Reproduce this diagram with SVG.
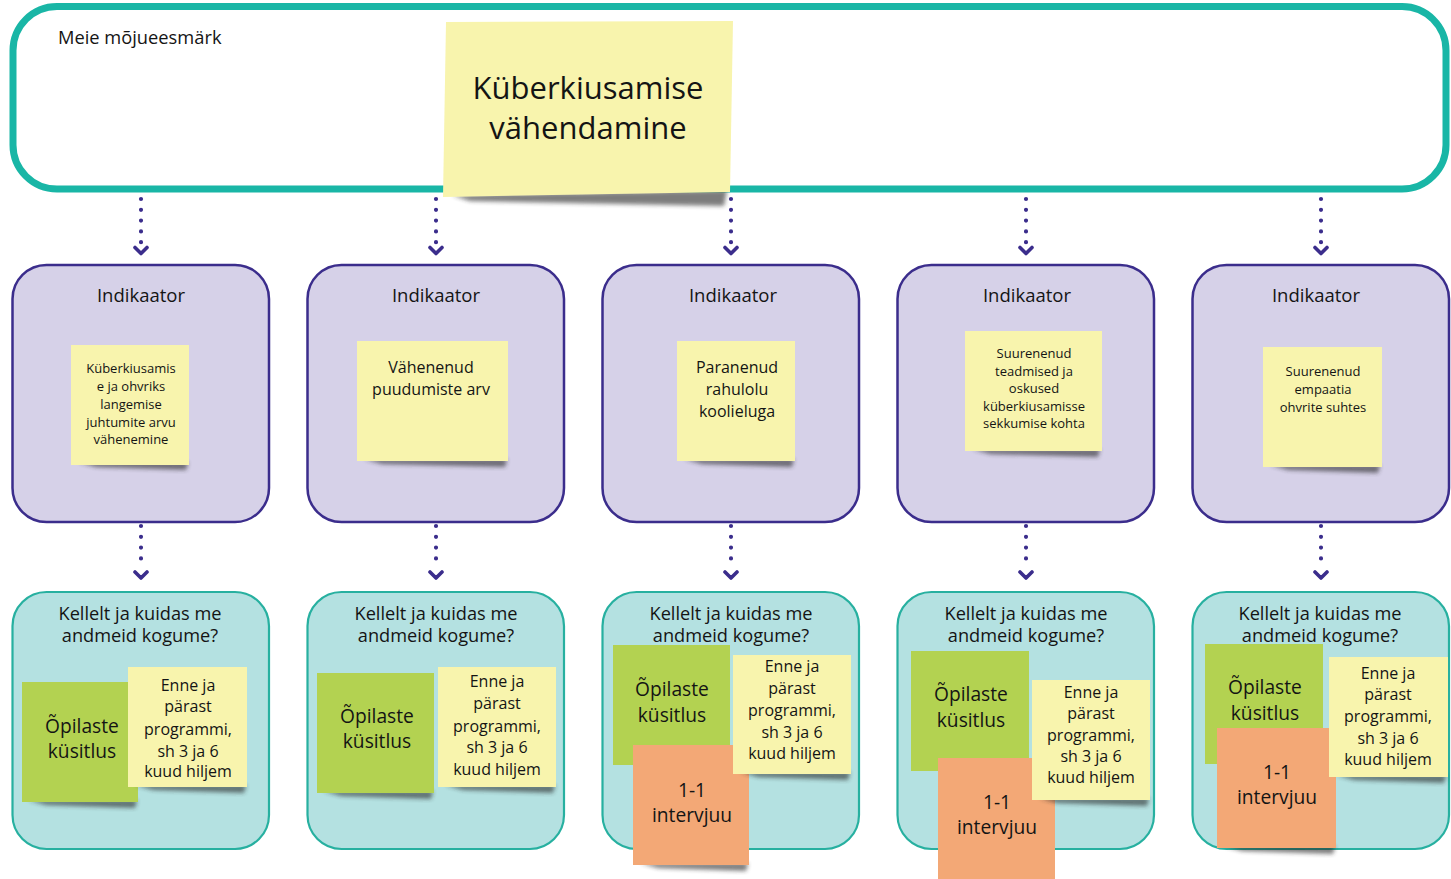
<svg xmlns="http://www.w3.org/2000/svg" width="1451" height="879" viewBox="0 0 1451 879">
  <defs>
    <filter id="soft" x="-10%" y="-50%" width="120%" height="200%">
      <feGaussianBlur stdDeviation="2"/>
    </filter>
  </defs>
  <style>
    text { font-family: 'Open Sans', 'Noto Sans', 'DejaVu Sans', sans-serif; fill: #141414; text-anchor: middle; }
    .goal { fill: #ffffff; stroke: #19b6a6; stroke-width: 7; }
    .ind { fill: #d6d1e8; stroke: #3b2d8c; stroke-width: 2.5; }
    .data { fill: #b4e1e1; stroke: #27b0a0; stroke-width: 2.2; }
    .yellow { fill: #f8f4ad; }
    .green { fill: #b3d251; }
    .orange { fill: #f3a876; }
    .shd { fill: #262626; opacity: 0.6; filter: url(#soft); }
    .h1 { font-size: 18.5px; }
    .h2 { font-size: 18.2px; }
    .big { font-size: 31px; }
    .s13 { font-size: 13px; }
    .s16 { font-size: 16px; }
    .s19 { font-size: 19.2px; }
    .dots { fill: none; stroke: #3b2d8c; stroke-width: 4.2; stroke-linecap: round; stroke-dasharray: 0 10.8; }
    .head { fill: none; stroke: #3b2d8c; stroke-width: 3.6; stroke-linecap: round; stroke-linejoin: round; }
  </style>

  <!-- impact goal frame with its sticky note -->
  <g id="goal">
    <rect class="goal" x="13" y="6.5" width="1433" height="182.5" rx="44"/>
    <text x="58" y="44" style="text-anchor:start;font-size:18.3px">Meie mõjueesmärk</text>
    <polygon class="shd" points="452,195 727,190 724,206 470,201"/>
    <polygon class="yellow" points="446,22 733,21 730,192 443,197"/>
    <text class="big" x="588" y="99">Küberkiusamise</text>
    <text class="big" x="588" y="139">vähendamine</text>
  </g>

  <!-- connectors -->
  <g id="connectors">
    <path class="dots" d="M141,199 V245 M436,199 V245 M731,199 V245 M1026,199 V245 M1321,199 V245"/>
    <path class="head" d="M135,247.5 L141,253.5 L147,247.5 M430,247.5 L436,253.5 L442,247.5 M725,247.5 L731,253.5 L737,247.5 M1020,247.5 L1026,253.5 L1032,247.5 M1315,247.5 L1321,253.5 L1327,247.5"/>
    <path class="dots" d="M141,526 V566 M436,526 V566 M731,526 V566 M1026,526 V566 M1321,526 V566"/>
    <path class="head" d="M135,572 L141,578 L147,572 M430,572 L436,578 L442,572 M725,572 L731,578 L737,572 M1020,572 L1026,578 L1032,572 M1315,572 L1321,578 L1327,572"/>
  </g>

  <!-- indicators -->
  <g id="indicator-1">
    <rect class="ind" x="12.5" y="265" width="256.5" height="257" rx="34"/>
    <text class="h1" x="141" y="302">Indikaator</text>
    <polygon class="shd" points="78,462 188,462 186,470 96,467"/>
    <rect class="yellow" x="71" y="345" width="118" height="120"/>
    <text class="s13" x="131" y="373">Küberkiusamis</text>
    <text class="s13" x="131" y="391">e ja ohvriks</text>
    <text class="s13" x="131" y="409">langemise</text>
    <text class="s13" x="131" y="427">juhtumite arvu</text>
    <text class="s13" x="131" y="444">vähenemine</text>
  </g>
  <g id="indicator-2">
    <rect class="ind" x="307.5" y="265" width="256.5" height="257" rx="34"/>
    <text class="h1" x="436" y="302">Indikaator</text>
    <polygon class="shd" points="364,459 507,459 505,467 382,464"/>
    <rect class="yellow" x="357" y="341" width="151" height="120"/>
    <text class="s16" x="431" y="373">Vähenenud</text>
    <text class="s16" x="431" y="395">puudumiste arv</text>
  </g>
  <g id="indicator-3">
    <rect class="ind" x="602.5" y="265" width="256.5" height="257" rx="34"/>
    <text class="h1" x="733" y="302">Indikaator</text>
    <polygon class="shd" points="684,459 794,459 792,467 702,464"/>
    <rect class="yellow" x="677" y="341" width="118" height="120"/>
    <text class="s16" x="737" y="373">Paranenud</text>
    <text class="s16" x="737" y="395">rahulolu</text>
    <text class="s16" x="737" y="417">koolieluga</text>
  </g>
  <g id="indicator-4">
    <rect class="ind" x="897.5" y="265" width="256.5" height="257" rx="34"/>
    <text class="h1" x="1027" y="302">Indikaator</text>
    <polygon class="shd" points="972,449 1100,449 1098,457 990,454"/>
    <rect class="yellow" x="965" y="331" width="137" height="120"/>
    <text class="s13" x="1034" y="358">Suurenenud</text>
    <text class="s13" x="1034" y="376">teadmised ja</text>
    <text class="s13" x="1034" y="393">oskused</text>
    <text class="s13" x="1034" y="411">küberkiusamisse</text>
    <text class="s13" x="1034" y="428">sekkumise kohta</text>
  </g>
  <g id="indicator-5">
    <rect class="ind" x="1192.5" y="265" width="256.5" height="257" rx="34"/>
    <text class="h1" x="1316" y="302">Indikaator</text>
    <polygon class="shd" points="1270,465 1380,465 1378,473 1288,470"/>
    <rect class="yellow" x="1263" y="347" width="119" height="120"/>
    <text class="s13" x="1323" y="376">Suurenenud</text>
    <text class="s13" x="1323" y="394">empaatia</text>
    <text class="s13" x="1323" y="412">ohvrite suhtes</text>
  </g>

  <!-- data collection boxes -->
  <g id="data-1">
    <rect class="data" x="12.5" y="592" width="256.5" height="257" rx="34"/>
    <text class="h2" x="140" y="620">Kellelt ja kuidas me</text>
    <text class="h2" x="140" y="642">andmeid kogume?</text>
    <polygon class="shd" points="28,800 137,800 135,808 46,805"/>
    <rect class="green" x="22" y="682" width="116" height="120"/>
    <text class="s19" x="82" y="733">Õpilaste</text>
    <text class="s19" x="82" y="758">küsitlus</text>
    <polygon class="shd" points="135,785 246,785 244,793 153,790"/>
    <rect class="yellow" x="128" y="667" width="119" height="120"/>
    <text class="s16" x="188" y="691">Enne ja</text>
    <text class="s16" x="188" y="712">pärast</text>
    <text class="s16" x="188" y="735">programmi,</text>
    <text class="s16" x="188" y="757">sh 3 ja 6</text>
    <text class="s16" x="188" y="777">kuud hiljem</text>
  </g>
  <g id="data-2">
    <rect class="data" x="307.5" y="592" width="256.5" height="257" rx="34"/>
    <text class="h2" x="436" y="620">Kellelt ja kuidas me</text>
    <text class="h2" x="436" y="642">andmeid kogume?</text>
    <polygon class="shd" points="323,791 433,791 431,799 341,796"/>
    <rect class="green" x="317" y="673" width="117" height="120"/>
    <text class="s19" x="377" y="723">Õpilaste</text>
    <text class="s19" x="377" y="748">küsitlus</text>
    <polygon class="shd" points="445,785 555,785 553,793 463,790"/>
    <rect class="yellow" x="438" y="667" width="118" height="120"/>
    <text class="s16" x="497" y="687">Enne ja</text>
    <text class="s16" x="497" y="709">pärast</text>
    <text class="s16" x="497" y="732">programmi,</text>
    <text class="s16" x="497" y="753">sh 3 ja 6</text>
    <text class="s16" x="497" y="775">kuud hiljem</text>
  </g>
  <g id="data-3">
    <rect class="data" x="602.5" y="592" width="256.5" height="257" rx="34"/>
    <text class="h2" x="731" y="620">Kellelt ja kuidas me</text>
    <text class="h2" x="731" y="642">andmeid kogume?</text>
    <rect class="green" x="613" y="645" width="117" height="120"/>
    <text class="s19" x="672" y="696">Õpilaste</text>
    <text class="s19" x="672" y="722">küsitlus</text>
    <polygon class="shd" points="640,863 748,863 746,871 658,868"/>
    <rect class="orange" x="633" y="745" width="116" height="120"/>
    <text class="s19" x="692" y="797">1-1</text>
    <text class="s19" x="692" y="822">intervjuu</text>
    <polygon class="shd" points="740,772 850,772 848,780 758,777"/>
    <rect class="yellow" x="733" y="655" width="118" height="119"/>
    <text class="s16" x="792" y="672">Enne ja</text>
    <text class="s16" x="792" y="694">pärast</text>
    <text class="s16" x="792" y="716">programmi,</text>
    <text class="s16" x="792" y="738">sh 3 ja 6</text>
    <text class="s16" x="792" y="759">kuud hiljem</text>
  </g>
  <g id="data-4">
    <rect class="data" x="897.5" y="592" width="256.5" height="257" rx="34"/>
    <text class="h2" x="1026" y="620">Kellelt ja kuidas me</text>
    <text class="h2" x="1026" y="642">andmeid kogume?</text>
    <rect class="green" x="911" y="651" width="118" height="120"/>
    <text class="s19" x="971" y="701">Õpilaste</text>
    <text class="s19" x="971" y="727">küsitlus</text>
    <rect class="orange" x="938" y="758" width="117" height="121"/>
    <text class="s19" x="997" y="809">1-1</text>
    <text class="s19" x="997" y="834">intervjuu</text>
    <polygon class="shd" points="1039,798 1149,798 1147,806 1057,803"/>
    <rect class="yellow" x="1032" y="680" width="118" height="120"/>
    <text class="s16" x="1091" y="698">Enne ja</text>
    <text class="s16" x="1091" y="719">pärast</text>
    <text class="s16" x="1091" y="741">programmi,</text>
    <text class="s16" x="1091" y="762">sh 3 ja 6</text>
    <text class="s16" x="1091" y="783">kuud hiljem</text>
  </g>
  <g id="data-5">
    <rect class="data" x="1192.5" y="592" width="256.5" height="257" rx="34"/>
    <text class="h2" x="1320" y="620">Kellelt ja kuidas me</text>
    <text class="h2" x="1320" y="642">andmeid kogume?</text>
    <rect class="green" x="1205" y="644" width="118" height="120"/>
    <text class="s19" x="1265" y="694">Õpilaste</text>
    <text class="s19" x="1265" y="720">küsitlus</text>
    <polygon class="shd" points="1224,846 1335,846 1333,854 1242,851"/>
    <rect class="orange" x="1217" y="728" width="119" height="120"/>
    <text class="s19" x="1277" y="779">1-1</text>
    <text class="s19" x="1277" y="804">intervjuu</text>
    <polygon class="shd" points="1336,775 1446,775 1444,783 1354,780"/>
    <rect class="yellow" x="1329" y="657" width="119" height="120"/>
    <text class="s16" x="1388" y="679">Enne ja</text>
    <text class="s16" x="1388" y="700">pärast</text>
    <text class="s16" x="1388" y="722">programmi,</text>
    <text class="s16" x="1388" y="744">sh 3 ja 6</text>
    <text class="s16" x="1388" y="765">kuud hiljem</text>
  </g>
</svg>
